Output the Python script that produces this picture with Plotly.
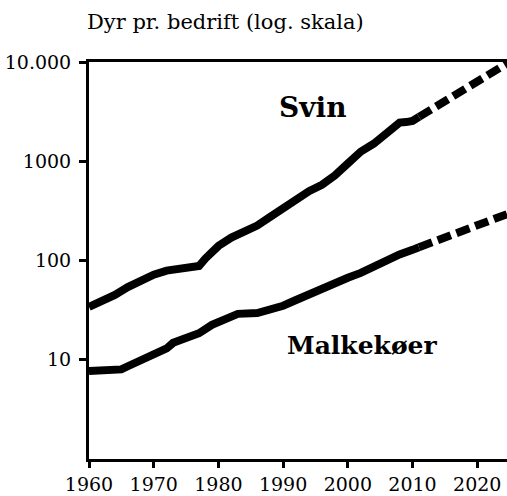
import plotly.graph_objects as go
import numpy as np

# Svin (pigs per farm)
svin_years = [1960, 1962, 1964, 1966, 1968, 1970, 1972, 1974, 1976, 1977, 1978, 1980,
              1982, 1984, 1986, 1988, 1990, 1992, 1994, 1996, 1998, 2000, 2002, 2004,
              2006, 2008, 2009, 2010, 2011]
svin_vals = [34, 39, 45, 54, 63, 72, 79, 84, 87, 88, 105, 140,
             170, 195, 225, 275, 335, 430, 500, 580, 720, 950, 1250, 1500,
             1900, 2450, 2480, 2550, 2800]
svin_proj_years = [2011, 2025]
svin_proj_vals = [2800, 10000]

# Malkekøer (dairy cows per farm)
malk_years = [1960, 1962, 1963, 1965, 1966, 1968, 1970, 1972, 1973, 1975, 1977, 1979,
              1981, 1983, 1986, 1988, 1990, 1992, 1994, 1996, 1998, 2000, 2002, 2004,
              2006, 2008, 2010, 2011]
malk_vals = [7.7, 7.7, 7.9, 8.0, 8.6, 10, 11.5, 13, 14.8, 16.5, 18.5, 22.5,
             26, 29, 29.5, 32, 35, 40, 46, 52, 60, 67, 75, 87,
             100, 115, 128, 136]
malk_proj_years = [2011, 2025]
malk_proj_vals = [136, 300]

x_ticks = [1960, 1970, 1980, 1990, 2000, 2010, 2020]
y_ticks = [10, 100, 1000, 10000]
y_tick_text = ["10", "100", "1000", "10.000"]

FONT = "DejaVu Serif"
LW = 8
DASH = "14px,6px"

fig = go.Figure()
fig.add_trace(go.Scatter(x=svin_years, y=svin_vals, mode="lines",
                         line=dict(color="black", width=LW), showlegend=False))
fig.add_trace(go.Scatter(x=svin_proj_years, y=svin_proj_vals, mode="lines",
                         line=dict(color="black", width=LW, dash=DASH), showlegend=False))
fig.add_trace(go.Scatter(x=malk_years, y=malk_vals, mode="lines",
                         line=dict(color="black", width=LW), showlegend=False))
fig.add_trace(go.Scatter(x=malk_proj_years, y=malk_proj_vals, mode="lines",
                         line=dict(color="black", width=LW, dash=DASH), showlegend=False))

fig.add_annotation(x=1994.6, y=np.log10(3500), text="<b>Svin</b>", showarrow=False,
                   font=dict(family=FONT, size=28, color="black"))
fig.add_annotation(x=2002.2, y=np.log10(13.8), text="<b>Malkekøer</b>", showarrow=False,
                   font=dict(family=FONT, size=25, color="black"))
fig.add_annotation(xref="paper", yref="paper", x=-4/418, y=1 + 40/397,
                   xanchor="left", yanchor="middle", text="Dyr pr. bedrift (log. skala)",
                   showarrow=False, font=dict(family=FONT, size=21, color="black"))

fig.update_layout(
    width=507, height=496,
    margin=dict(l=89, r=0, t=62, b=37),
    plot_bgcolor="white", paper_bgcolor="white",
    font=dict(family=FONT, size=19, color="black"),
    xaxis=dict(range=[1960, 2024.6], tickvals=x_ticks, showgrid=False, zeroline=False,
               showline=True, linecolor="black", linewidth=3, mirror=True,
               ticks="outside", ticklen=6, tickwidth=3, tickcolor="black",
               tickfont=dict(family=FONT, size=19)),
    yaxis=dict(type="log", range=[0, 4], tickvals=y_ticks, ticktext=y_tick_text,
               showgrid=False, zeroline=False, showline=True, linecolor="black",
               linewidth=3, ticks="outside", ticklen=7, tickwidth=3, tickcolor="black",
               tickfont=dict(family=FONT, size=19), ticklabelstandoff=4),
)

fig.write_html("out.html", config={"responsive": False, "displayModeBar": False},
               post_script="document.body.style.margin='0';document.body.style.overflow='hidden';")
